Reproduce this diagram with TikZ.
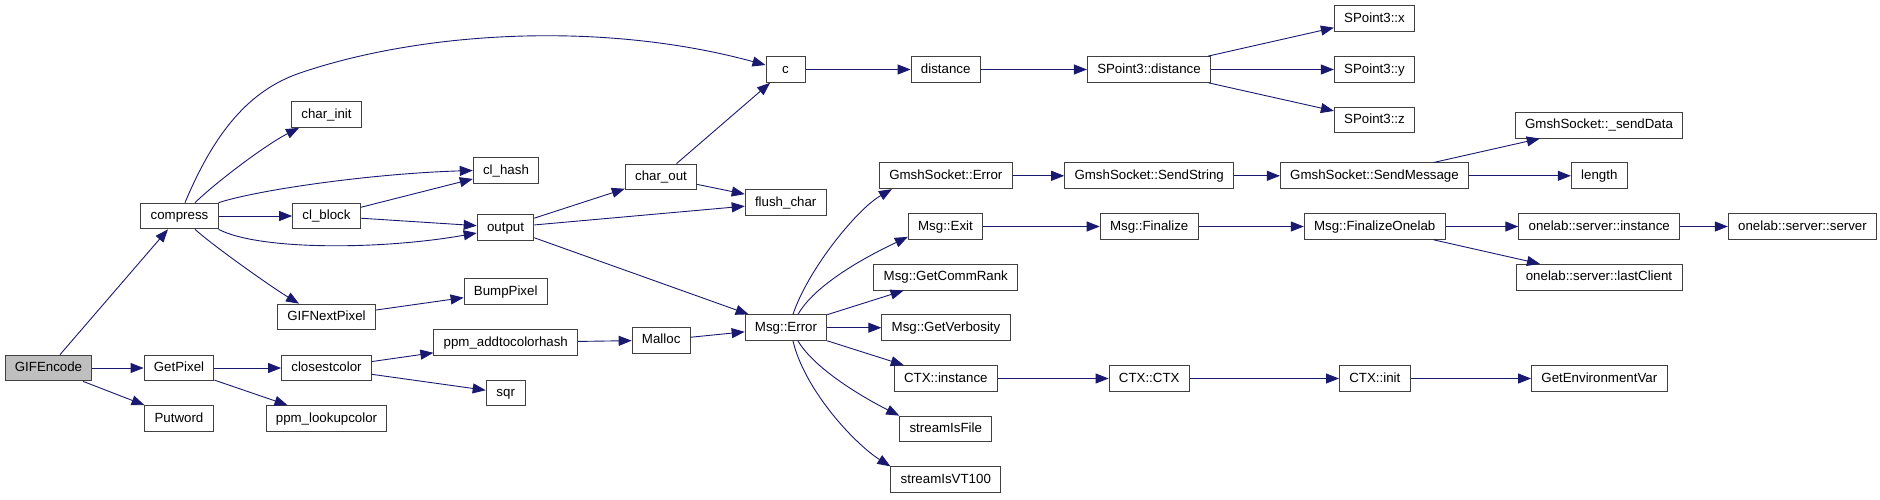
\documentclass[tikz,border=0pt]{standalone}
\usepackage{fontspec}
\setmainfont{Liberation Sans}
\usepackage{tikz}
\usetikzlibrary{arrows.meta}
\definecolor{edgeblue}{HTML}{191970}
\definecolor{framegray}{HTML}{404040}
\definecolor{rootgray}{HTML}{BFBFBF}

\begin{document}
\begin{tikzpicture}[x=1pt,y=-1pt, every node/.style={font=\fontsize{13.3}{15}\selectfont},
func/.style={draw=framegray,line width=1pt,fill=white,minimum width=39pt,minimum height=25.7pt,inner xsep=9.8pt,inner ysep=0pt,text height=9.8pt,text depth=2.6pt},
root/.style={func,fill=rootgray},
calls/.style={-{Triangle[length=13pt,width=10pt]},line width=0.9pt,draw=edgeblue}]
\useasboundingbox (0,0) rectangle (1880,499);
% left part
\node[root] (gifencode) at (48.5,368) {GIFEncode};
\node[func] (compress) at (179.5,216) {compress};
\node[func] (getpixel) at (179,368) {GetPixel};
\node[func] (putword) at (179,418.5) {Putword};
\node[func] (charinit) at (326.5,114.5) {char\_init};
\node[func] (clblock) at (326.5,216) {cl\_block};
\node[func] (gifnext) at (326.5,317) {GIFNextPixel};
\node[func] (closest) at (326.5,368) {closestcolor};
\node[func] (lookup) at (326.5,418.5) {ppm\_lookupcolor};
\node[func] (clhash) at (506,170.5) {cl\_hash};
\node[func] (output) at (505.5,227.5) {output};
\node[func] (bump) at (505.7,291.7) {BumpPixel};
\node[func] (addhash) at (505.8,342.5) {ppm\_addtocolorhash};
\node[func] (sqr) at (505.7,393) {sqr};
\node[func] (charout) at (661,177) {char\_out};
\node[func] (malloc) at (661.2,340.2) {Malloc};
\node[func] (c) at (785.5,69.5) {c};
\node[func] (flush) at (785.7,202.5) {flush\_char};
\node[func] (msgerror) at (786,327.7) {Msg::Error};
% right part
\node[func] (distance) at (945.7,69.5) {distance};
\node[func] (gserror) at (945.8,175.8) {GmshSocket::Error};
\node[func] (msgexit) at (945.5,226.5) {Msg::Exit};
\node[func] (commrank) at (945.8,277.2) {Msg::GetCommRank};
\node[func] (verbosity) at (946,327.7) {Msg::GetVerbosity};
\node[func] (ctxinst) at (945.8,378.5) {CTX::instance};
\node[func] (streamfile) at (945.8,429) {streamIsFile};
\node[func] (streamvt) at (945.8,479.7) {streamIsVT100};
\node[func] (spdist) at (1149,69.5) {SPoint3::distance};
\node[func] (sendstring) at (1149.2,175.8) {GmshSocket::SendString};
\node[func] (finalize) at (1149.2,226.5) {Msg::Finalize};
\node[func] (ctxctx) at (1149.2,378.5) {CTX::CTX};
\node[func] (spx) at (1374.5,18.5) {SPoint3::x};
\node[func] (spy) at (1374.5,69.5) {SPoint3::y};
\node[func] (spz) at (1374.5,120) {SPoint3::z};
\node[func] (sendmsg) at (1374.5,175.8) {GmshSocket::SendMessage};
\node[func] (finonelab) at (1374.7,226.5) {Msg::FinalizeOnelab};
\node[func] (ctxinit) at (1374.8,378.5) {CTX::init};
\node[func] (senddata) at (1599,125.2) {GmshSocket::\_sendData};
\node[func] (length) at (1599.3,175.8) {length};
\node[func] (olinst) at (1599.2,226.5) {onelab::server::instance};
\node[func] (lastclient) at (1599,277.2) {onelab::server::lastClient};
\node[func] (getenv) at (1599.3,378.5) {GetEnvironmentVar};
\node[func] (olserver) at (1802.5,226.5) {onelab::server::server};
% calls
\draw[calls] (gifencode)--(compress);\draw[calls] (gifencode)--(getpixel);\draw[calls] (gifencode)--(putword);
\draw[calls] ([xshift=5.5pt]compress.north) .. controls (215,131) and (250,90) .. (300,73) .. controls (420,32) and (600,20) .. ([yshift=4.5pt]c.west);
\draw[calls] ([xshift=15.5pt]compress.north) .. controls +(25,-24) and +(-30,15) .. ([xshift=8pt]charinit.south west);
\draw[calls] (compress.north east) .. controls +(40,-13) and +(-100,3) .. (clhash.west);
\draw[calls] (compress)--(clblock);
\draw[calls] (compress.south east) .. controls +(40,21) and +(-96,17) .. ([yshift=-5.5pt]output.west);
\draw[calls] ([xshift=15.5pt]compress.south) .. controls +(20,18) and +(-25,-15) .. ([xshift=22pt]gifnext.north west);
\draw[calls] (clblock)--(clhash);\draw[calls] (clblock)--(output);\draw[calls] (gifnext)--(bump);
\draw[calls] (getpixel)--(closest);\draw[calls] (getpixel)--(lookup);
\draw[calls] (closest)--(addhash);\draw[calls] (closest)--(sqr);\draw[calls] (addhash)--(malloc);\draw[calls] (malloc)--(msgerror);
\draw[calls] (output)--(charout);\draw[calls] (output)--(flush);\draw[calls] (output)--(msgerror);
\draw[calls] (charout)--(c);\draw[calls] (charout)--(flush);
\draw[calls] (c)--(distance);\draw[calls] (distance)--(spdist);
\draw[calls] (spdist)--(spx);\draw[calls] (spdist)--(spy);\draw[calls] (spdist)--(spz);
\draw[calls] ([xshift=7pt]msgerror.north) .. controls +(15,-45) and +(-35,20) .. ([xshift=13pt]gserror.south west);
\draw[calls] ([xshift=12pt]msgerror.north) .. controls +(20,-35) and +(-25,12) .. ([yshift=3pt]msgexit.south west);
\draw[calls] (msgerror)--(commrank);\draw[calls] (msgerror)--(verbosity);\draw[calls] (msgerror)--(ctxinst);
\draw[calls] ([xshift=12pt]msgerror.south) .. controls +(18,30) and +(-30,-15) .. (streamfile.north west);
\draw[calls] ([xshift=7pt]msgerror.south) .. controls +(12,50) and +(-35,-22) .. (streamvt.north west);
\draw[calls] (gserror)--(sendstring);\draw[calls] (sendstring)--(sendmsg);
\draw[calls] (sendmsg)--(senddata);\draw[calls] (sendmsg)--(length);
\draw[calls] (msgexit)--(finalize);\draw[calls] (finalize)--(finonelab);
\draw[calls] (finonelab)--(olinst);\draw[calls] (finonelab)--(lastclient);\draw[calls] (olinst)--(olserver);
\draw[calls] (ctxinst)--(ctxctx);\draw[calls] (ctxctx)--(ctxinit);\draw[calls] (ctxinit)--(getenv);
\end{tikzpicture}
\end{document}
